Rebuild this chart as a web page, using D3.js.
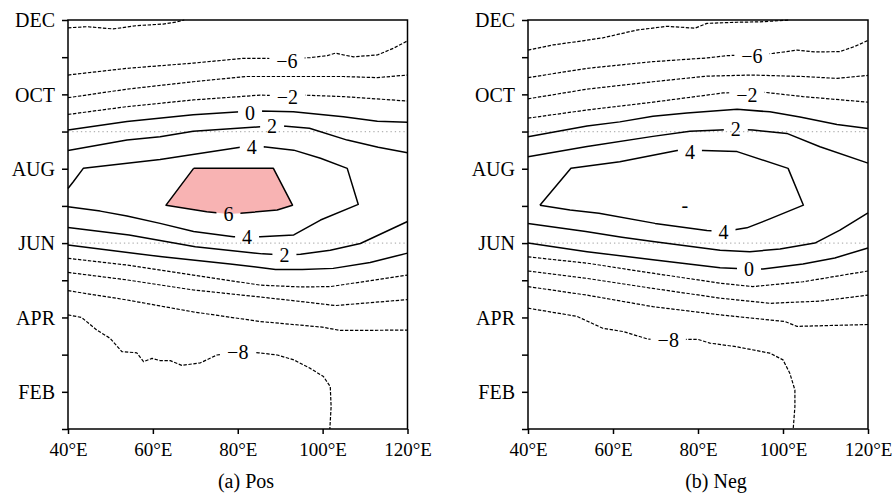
<!DOCTYPE html>
<html>
<head>
<meta charset="utf-8">
<script src="https://cdn.jsdelivr.net/npm/d3@7/dist/d3.min.js"></script>
<style>
  html, body { margin: 0; padding: 0; background: #fff; }
  svg { display: block; }
  text { font-family: "Liberation Serif", "Times New Roman", Times, serif; fill: #000; }
</style>
</head>
<body>
<svg id="chart" width="892" height="495"></svg>
<script>
// ---- axis categories and ticks ----
const monthNames = ["JAN","FEB","MAR","APR","MAY","JUN","JUL","AUG","SEP","OCT","NOV","DEC"];
const labeledMonths = ["DEC","OCT","AUG","JUN","APR","FEB"];
const lonTicks = [40, 60, 80, 100, 120];
const refMonths = [6, 9];               // dotted reference lines (JUN, SEP)
const panelTitles = ["(a) Pos", "(b) Neg"];

// ---- contour lines, [longitude °E, month (JAN=1 ... DEC=12)] ----
// (a) Pos
const posM8top = [[40,11.79],[44.5,11.82],[50.6,11.76],[56.3,11.85],[62.4,11.89],[65.7,11.95],[67.4,12.0]];
const posM6top = [[40,10.52],[53.9,10.70],[69.5,10.84],[81.3,10.97],[86.0,10.97],[91.7,10.95],[97.1,10.99],[101.1,11.04],[103.0,11.11],[104.9,11.06],[107.3,11.01],[112.9,11.06],[116.7,11.24],[120,11.44]];
const posM4top = [[40,9.91],[53.9,10.14],[69.5,10.34],[81.8,10.48],[93.1,10.48],[104.9,10.48],[112.9,10.45],[120,10.52]];
const posM2top = [[40,9.46],[53.9,9.67],[69.5,9.85],[85.3,9.98],[91.7,9.96],[95.5,9.98],[104.9,9.94],[120,9.82]];
const pos0top  = [[40,9.04],[53.9,9.27],[69.5,9.45],[80.6,9.53],[85.3,9.55],[93.1,9.53],[104.9,9.40],[112.9,9.28],[120,9.25]];
const pos2top  = [[40,8.49],[53.9,8.77],[61.7,8.86],[69.5,9.01],[85.3,9.13],[90.7,9.15],[96.9,9.09],[105.8,8.77],[113.1,8.58],[120,8.43]];
const pos4     = [[40,7.47],[41.25,7.65],[43.6,8.01],[61.7,8.25],[80.6,8.58],[86.1,8.59],[93.2,8.50],[99.5,8.28],[105.8,8.01],[108.4,7.04],[99.5,6.62],[93.2,6.22],[85.3,6.17],[79.0,6.17],[69.6,6.31],[61.7,6.53],[53.9,6.73],[47.6,6.86],[40,6.98]];
const pos6     = [[69.6,8.01],[88.4,8.01],[92.9,7.02],[89.3,6.89],[80.6,6.80],[77.8,6.78],[72.7,6.84],[63.1,7.02],[69.6,8.01]];
const pos2bot  = [[40,6.42],[54.4,6.22],[70.0,5.90],[85.8,5.71],[91.0,5.68],[94.8,5.70],[101.8,5.81],[108.9,5.99],[120,6.58]];
const pos0bot  = [[40,5.95],[62.2,5.63],[78.2,5.44],[88.9,5.29],[95.2,5.29],[102.5,5.32],[111.2,5.48],[120,5.73]];
const posM2bot = [[40,5.59],[53.9,5.41],[69.5,5.14],[85.3,4.87],[94.8,4.82],[101.8,4.83],[120,5.14]];
const posM4bot = [[40,5.21],[53.9,5.01],[69.5,4.74],[85.3,4.55],[94.8,4.43],[103.0,4.32],[120,4.48]];
const posM6bot = [[40,4.72],[53.9,4.47],[69.5,4.15],[85.3,3.89],[99.9,3.74],[104.2,3.65],[120,3.66]];
const posM8bot = [[40,4.07],[43.2,4.00],[46.8,3.66],[49.9,3.44],[52.7,3.08],[56.2,3.05],[57.8,2.81],[59.8,2.90],[61.7,2.84],[64.1,2.84],[66.8,2.71],[71.2,2.78],[75.1,2.99],[80.0,3.07],[84.9,3.05],[89.3,2.99],[93.2,2.86],[97.1,2.63],[100.2,2.41],[101.8,2.14],[102.0,1.60],[101.7,1.0]];

// (b) Neg
const negM8top = [[40,11.19],[45.9,11.33],[52.9,11.44],[57.6,11.52],[65.6,11.73],[72.7,11.83],[79.3,11.78],[82.1,11.91],[89.2,11.94],[94.6,11.95],[101.6,12.0]];
const negM6top = [[40,10.45],[53.9,10.70],[69.4,10.88],[82.1,10.98],[86.8,11.04],[92.2,11.07],[97.6,11.10],[103.3,11.19],[107.5,11.14],[113.4,11.15],[116.9,11.29],[120,11.45]];
const negM4top = [[40,9.88],[53.9,10.14],[69.4,10.34],[82.1,10.49],[92.9,10.52],[104.7,10.48],[112.7,10.43],[120,10.51]];
const negM2top = [[40,9.36],[53.9,9.58],[69.4,9.79],[82.1,9.98],[85.9,10.04],[91.3,10.05],[95.3,10.06],[104.7,9.94],[120,9.79]];
const neg0top  = [[40,8.86],[53.9,9.15],[61.6,9.26],[69.4,9.41],[77.4,9.50],[89.2,9.60],[96.9,9.53],[104.0,9.39],[112.7,9.19],[120,9.08]];
const neg2top  = [[40,8.32],[53.9,8.60],[69.4,8.87],[78.1,9.01],[85.2,9.04],[88.9,9.06],[92.9,9.04],[100.9,8.95],[108.7,8.59],[120,8.15]];
const neg4     = [[42.8,7.02],[50.1,8.01],[61.6,8.19],[75.1,8.49],[81.2,8.49],[89.2,8.46],[101.2,8.01],[104.8,7.02],[96.9,6.65],[91.5,6.41],[86.1,6.31],[82.1,6.34],[69.9,6.53],[56.7,6.80],[49.9,6.89],[42.8,7.02]];
const neg2bot  = [[40,6.53],[53.6,6.31],[62.1,6.16],[69.4,6.04],[85.2,5.81],[92.2,5.77],[99.3,5.84],[107.5,6.00],[113.4,6.35],[120,6.81]];
const neg0bot  = [[40,6.00],[53.9,5.77],[69.4,5.55],[85.2,5.34],[91.8,5.30],[95.3,5.30],[104.7,5.44],[112.2,5.60],[120,5.87]];
const negM2bot = [[40,5.63],[53.9,5.46],[69.4,5.19],[85.2,4.92],[92.9,4.83],[104.7,4.96],[120,5.25]];
const negM4bot = [[40,5.25],[53.9,5.05],[69.4,4.78],[85.2,4.52],[96.9,4.38],[108.7,4.44],[120,4.60]];
const negM6bot = [[40,4.83],[53.9,4.60],[69.4,4.29],[85.2,4.07],[100.5,3.89],[103.3,3.76],[120,3.81]];
const negM8bot = [[40,4.25],[45.2,4.15],[51.5,4.03],[57.6,3.71],[62.4,3.62],[68.2,3.42],[73.0,3.39],[77.6,3.41],[80.0,3.41],[82.8,3.31],[89.2,3.21],[96.9,3.04],[100.0,2.86],[101.6,2.50],[102.8,2.05],[102.8,1.60],[102.4,1.00]];

// contour levels for each line
const posLevels = [-8,-6,-4,-2,0,2,4,6,2,0,-2,-4,-6,-8];
const negLevels = [-8,-6,-4,-2,0,2,4,2,0,-2,-4,-6,-8];
const posLines = [posM8top,posM6top,posM4top,posM2top,pos0top,pos2top,pos4,pos6,pos2bot,pos0bot,posM2bot,posM4bot,posM6bot,posM8bot];
const negLines = [negM8top,negM6top,negM4top,negM2top,neg0top,neg2top,neg4,neg2bot,neg0bot,negM2bot,negM4bot,negM6bot,negM8bot];

// shaded region (>= 6) in (a)
const posShaded = [pos6];

// contour line labels: [text, lon, month]
const posLabels = [["−6",91.6,10.90],["−2",91.7,9.94],["0",82.9,9.51],["2",88.1,9.15],["4",83.3,8.59],["6",77.8,6.78],["4",82.2,6.16],["2",91.0,5.67],["−8",80.0,3.08]];
const negLabels = [["−6",92.7,11.03],["−2",91.5,9.98],["2",88.9,9.06],["4",78.1,8.46],["-",76.9,7.02],["4",86.0,6.31],["0",92.0,5.29],["−8",73.0,3.39]];

// ---- drawing ----
const W = 892, H = 495;
const svg = d3.select("#chart");
const defs = svg.append("defs");
const plotTop = 20, plotBottom = 429;
const y = d3.scaleLinear().domain([1, 12]).range([plotBottom, plotTop]);

const panels = [
  { id: "a", x0: 68,  x1: 407.5, titleX: 246, title: panelTitles[0], lines: posLines, levels: posLevels, labels: posLabels, shaded: posShaded },
  { id: "b", x0: 528, x1: 868,   titleX: 716, title: panelTitles[1], lines: negLines, levels: negLevels, labels: negLabels, shaded: [] }
];

panels.forEach(p => {
  const x = d3.scaleLinear().domain([40, 120]).range([p.x0, p.x1]);
  const g = svg.append("g");
  const line = d3.line().x(d => x(d[0])).y(d => y(d[1])).curve(d3.curveLinear);

  const shadeLayer = g.append("g");
  const refLayer = g.append("g");
  const lineLayer = g.append("g");
  const textLayer = g.append("g");

  // shaded area
  shadeLayer.selectAll("path").data(p.shaded).join("path")
    .attr("d", line)
    .attr("fill", "#f8b3b3")
    .attr("stroke", "none");

  // dotted reference lines
  refLayer.selectAll("line").data(refMonths).join("line")
    .attr("x1", p.x0).attr("x2", p.x1)
    .attr("y1", d => y(d)).attr("y2", d => y(d))
    .attr("stroke", "#b4b4b4")
    .attr("stroke-width", 1.2)
    .attr("stroke-dasharray", "1.3,3");

  // contour labels
  const labelText = textLayer.selectAll("text").data(p.labels).join("text")
    .attr("x", d => x(d[1]))
    .attr("y", d => y(d[2]))
    .attr("text-anchor", "middle")
    .attr("dominant-baseline", "central")
    .attr("font-size", 20)
    .text(d => d[0]);

  // mask that opens a gap in the contour lines under each label
  const mask = defs.append("mask")
    .attr("id", "gap-" + p.id)
    .attr("maskUnits", "userSpaceOnUse")
    .attr("x", 0).attr("y", 0).attr("width", W).attr("height", H);
  mask.append("rect").attr("x", 0).attr("y", 0).attr("width", W).attr("height", H).attr("fill", "#fff");
  labelText.each(function(d) {
    if (d[0] === "-") return;
    const w = this.getComputedTextLength() + 14;
    mask.append("rect")
      .attr("x", x(d[1]) - w / 2).attr("y", y(d[2]) - 7)
      .attr("width", w).attr("height", 14)
      .attr("fill", "#000");
  });

  // contour lines (negative levels dashed)
  lineLayer.attr("mask", `url(#gap-${p.id})`)
    .selectAll("path").data(p.lines).join("path")
    .attr("d", line)
    .attr("fill", "none")
    .attr("stroke", "#000")
    .attr("stroke-linejoin", "round")
    .attr("stroke-width", (d, i) => p.levels[i] < 0 ? 1.2 : 1.5)
    .attr("stroke-dasharray", (d, i) => p.levels[i] < 0 ? "3.4,1.6" : null);

  // frame
  g.append("rect")
    .attr("x", p.x0).attr("y", plotTop)
    .attr("width", p.x1 - p.x0).attr("height", plotBottom - plotTop)
    .attr("fill", "none").attr("stroke", "#000").attr("stroke-width", 1.5);

  // left axis: every month ticked, every other month named
  const yAxis = d3.axisLeft(y)
    .tickValues(d3.range(1, 13))
    .tickSize(6)
    .tickPadding(7)
    .tickFormat(m => labeledMonths.includes(monthNames[m - 1]) ? monthNames[m - 1] : "");
  const ya = g.append("g").attr("transform", `translate(${p.x0},0)`).call(yAxis);
  ya.select(".domain").remove();
  ya.selectAll("line").attr("stroke", "#000").attr("stroke-width", 1.5);
  ya.selectAll("text").attr("font-size", 20).attr("font-family", null).attr("dy", "0.34em");

  // bottom axis
  const xAxis = d3.axisBottom(x)
    .tickValues(lonTicks)
    .tickSize(5)
    .tickPadding(9)
    .tickFormat(d => d + "°E");
  const xa = g.append("g").attr("transform", `translate(0,${plotBottom})`).call(xAxis);
  xa.select(".domain").remove();
  xa.selectAll("line").attr("stroke", "#000").attr("stroke-width", 1.5);
  xa.selectAll("text").attr("font-size", 19).attr("font-family", null);

  // panel title
  g.append("text")
    .attr("x", p.titleX).attr("y", 488)
    .attr("text-anchor", "middle")
    .attr("font-size", 20)
    .text(p.title);
});
</script>
</body>
</html>
